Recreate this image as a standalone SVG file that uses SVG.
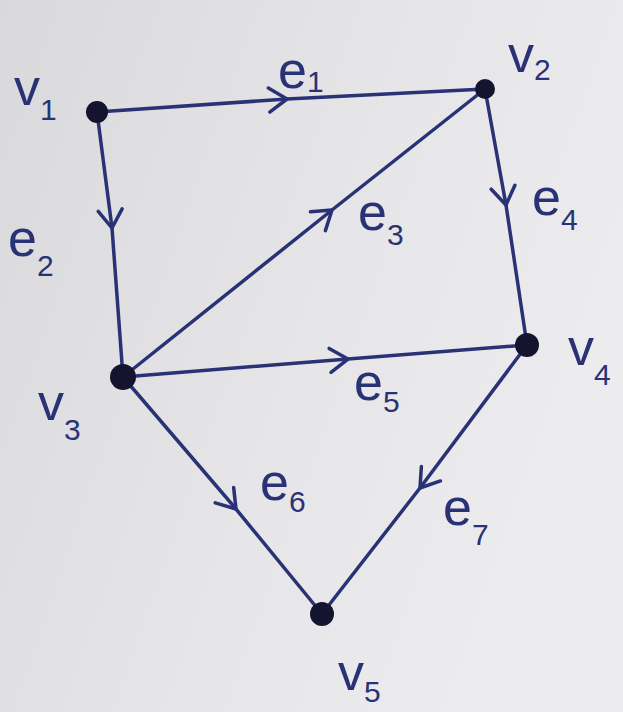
<svg xmlns="http://www.w3.org/2000/svg" width="623" height="712" viewBox="0 0 623 712">
<defs>
<linearGradient id="bg" x1="0" y1="0" x2="1" y2="0.4">
<stop offset="0" stop-color="#d9d9db"/>
<stop offset="0.6" stop-color="#e6e6e8"/>
<stop offset="1" stop-color="#ececee"/>
</linearGradient>
<marker id="chev" viewBox="-24 -16 28 32" markerWidth="28" markerHeight="32" refX="0" refY="0" orient="auto" markerUnits="userSpaceOnUse">
<path d="M -18 -12 L 0 0 L -18 12" fill="none" stroke="#2a3276" stroke-width="3.5" stroke-linecap="round" stroke-linejoin="round"/>
</marker>
</defs>
<style>
.edge{fill:none;stroke:#2a3276;stroke-width:3.5;stroke-linecap:round;marker-mid:url(#chev)}
.node{fill:#14142e}
.lbl{font-family:"Liberation Sans",Arial,sans-serif;fill:#2a3276;font-size:52px}
.sub{font-size:30px}
</style>
<rect width="623" height="712" fill="url(#bg)"/>
<g id="connectors">
<polyline id="e1" class="edge" points="97,112 287,99 485,89"/>
<polyline id="e2" class="edge" points="97,112 112,228 123,377"/>
<polyline id="e3" class="edge" points="123,377 332,210 485,89"/>
<polyline id="e4" class="edge" points="485,89 506,205 527,345"/>
<polyline id="e5" class="edge" points="123,377 348,359 527,345"/>
<polyline id="e6" class="edge" points="123,377 236,509 322,614"/>
<polyline id="e7" class="edge" points="527,345 420,488 322,614"/>
</g>
<g id="labels-edges">
<text class="lbl" x="278" y="88">e<tspan class="sub" dy="4">1</tspan></text>
<text class="lbl" x="8" y="256">e<tspan class="sub" dy="20">2</tspan></text>
<text class="lbl" x="358" y="230">e<tspan class="sub" dy="15">3</tspan></text>
<text class="lbl" x="532" y="215">e<tspan class="sub" dy="15">4</tspan></text>
<text class="lbl" x="354" y="400">e<tspan class="sub" dy="12">5</tspan></text>
<text class="lbl" x="260" y="500">e<tspan class="sub" dy="12">6</tspan></text>
<text class="lbl" x="443" y="525">e<tspan class="sub" dy="20">7</tspan></text>
</g>
<g id="v1"><circle class="node" cx="97" cy="112" r="11"/><text class="lbl" x="14" y="105">v<tspan class="sub" dy="15">1</tspan></text></g>
<g id="v2"><circle class="node" cx="485" cy="89" r="10"/><text class="lbl" x="508" y="72">v<tspan class="sub" dy="8">2</tspan></text></g>
<g id="v3"><circle class="node" cx="123" cy="377" r="13"/><text class="lbl" x="38" y="420">v<tspan class="sub" dy="20">3</tspan></text></g>
<g id="v4"><circle class="node" cx="527" cy="345" r="12"/><text class="lbl" x="568" y="365">v<tspan class="sub" dy="20">4</tspan></text></g>
<g id="v5"><circle class="node" cx="322" cy="614" r="12"/><text class="lbl" x="338" y="690">v<tspan class="sub" dy="12">5</tspan></text></g>
</svg>
